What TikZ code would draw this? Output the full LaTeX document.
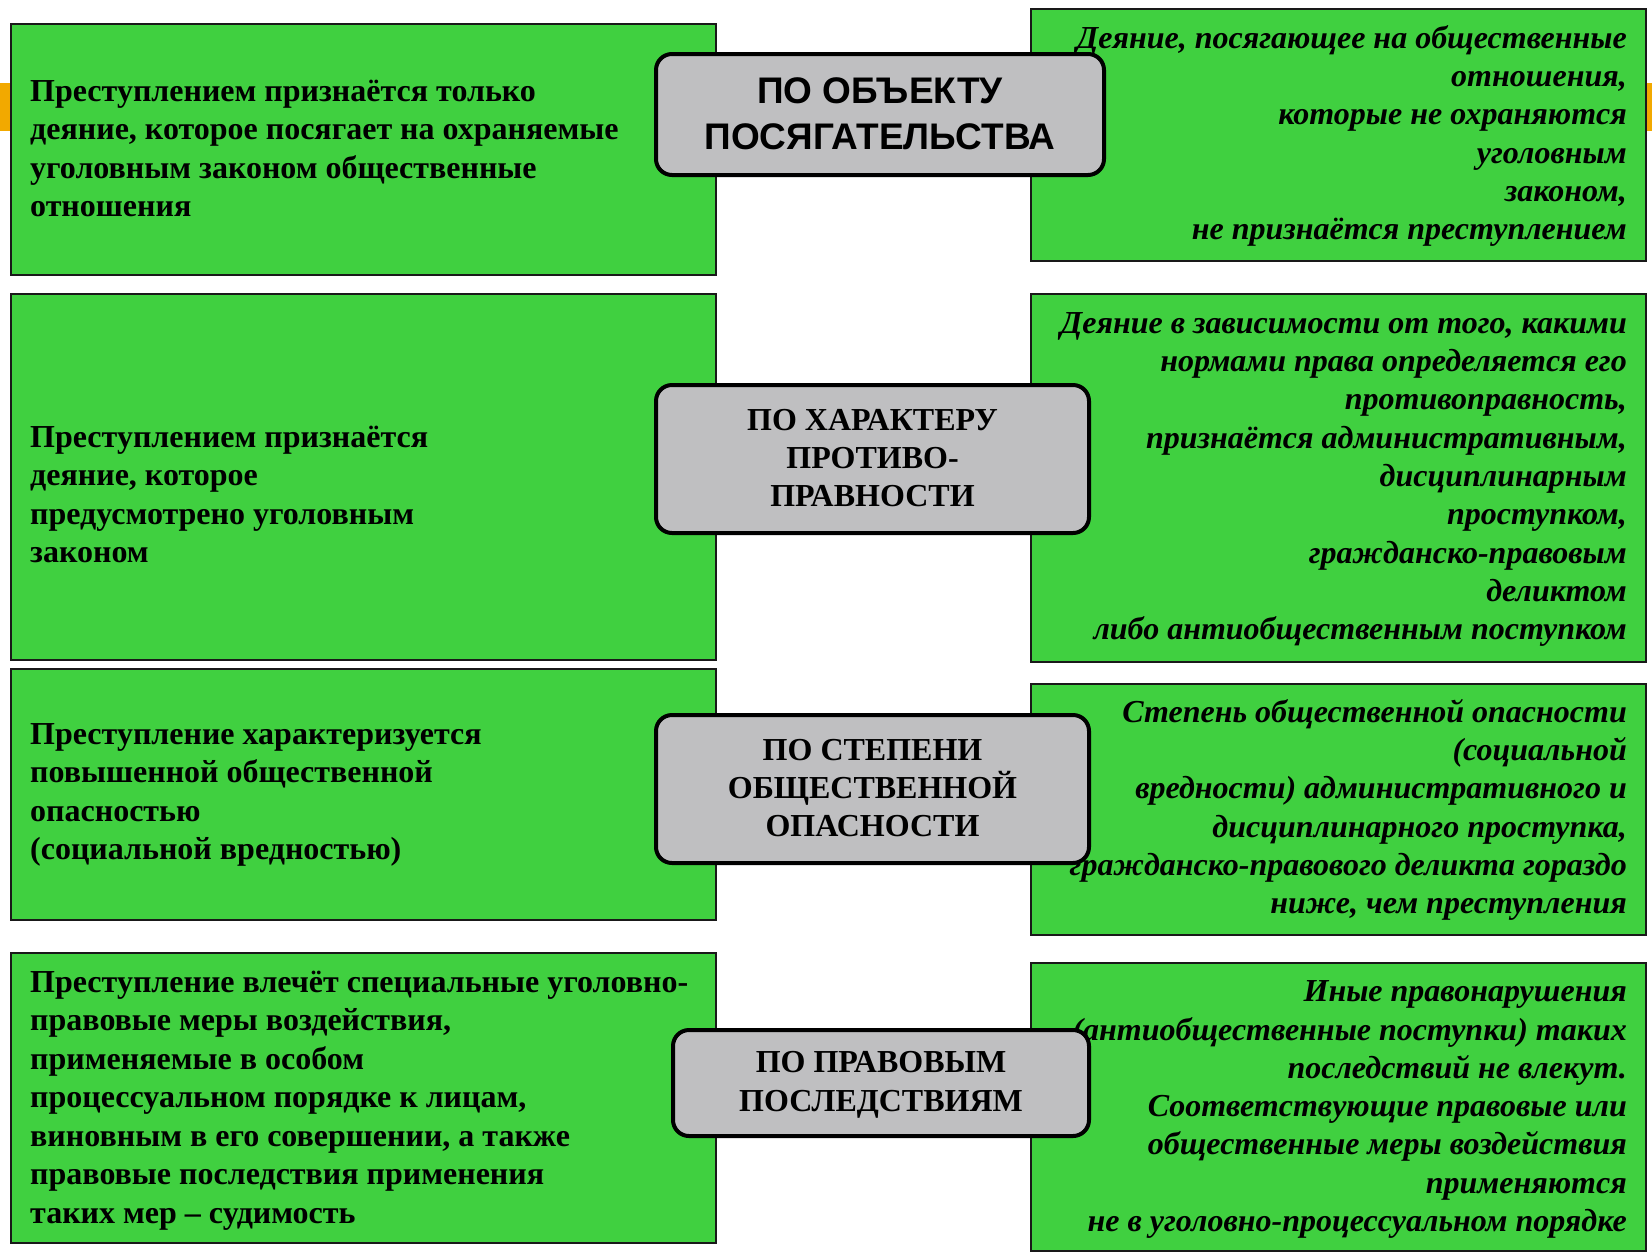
\documentclass[tikz,border=0pt]{standalone}
\usepackage{fontspec}
\setmainfont{Liberation Serif}
\newfontfamily\titlesans{Liberation Sans}
\definecolor{boxgreen}{RGB}{64,208,64}
\definecolor{bargold}{RGB}{242,169,0}
\definecolor{tagfill}{RGB}{191,191,193}
\newcommand{\lstack}[1]{\vtop{\lineskiplimit=-1000pt\halign{##\hfil\cr#1\crcr}}}
\newcommand{\rstack}[1]{\vtop{\lineskiplimit=-1000pt\halign{\hfil##\cr#1\crcr}}}
\newcommand{\cstack}[1]{\vtop{\lineskiplimit=-1000pt\halign{\hfil##\hfil\cr#1\crcr}}}
\tikzset{
  greenbox/.style={draw=black!90, line width=2pt, fill=boxgreen, anchor=north west, inner sep=0pt, outer sep=0pt},
  tagbox/.style={draw=black, line width=4pt, fill=tagfill, rounded corners=16pt, inner sep=0pt, outer sep=0pt, anchor=north west},
  lefttext/.style={anchor=base west, inner sep=0pt, font=\fontsize{32}{38.5}\selectfont\bfseries},
  righttext/.style={anchor=base east, inner sep=0pt, font=\fontsize{32}{38.3}\selectfont\bfseries\itshape},
  tagtext/.style={anchor=base, inner sep=0pt, font=\fontsize{32}{38.4}\selectfont\bfseries},
  tagsans/.style={anchor=base, inner sep=0pt, font=\titlesans\fontsize{37}{45.7}\selectfont\bfseries},
}
\begin{document}
\begin{tikzpicture}[x=1pt,y=-1pt]
\useasboundingbox (0,0) rectangle (1652,1254);
% orange band behind
\fill[bargold] (0,83) rectangle (1652,131);
% green boxes
\node[greenbox, minimum width=705pt, minimum height=251pt] (l1) at (11,24) {};
\node[greenbox, minimum width=705pt, minimum height=366pt] (l2) at (11,294) {};
\node[greenbox, minimum width=705pt, minimum height=251pt] (l3) at (11,669) {};
\node[greenbox, minimum width=705pt, minimum height=290pt] (l4) at (11,953) {};
\node[greenbox, minimum width=615pt, minimum height=252pt] (r1) at (1031,9) {};
\node[greenbox, minimum width=615pt, minimum height=368pt] (r2) at (1031,294) {};
\node[greenbox, minimum width=615pt, minimum height=251pt] (r3) at (1031,684) {};
\node[greenbox, minimum width=615pt, minimum height=288pt] (r4) at (1031,963) {};
% left texts
\node[lefttext] (l1t) at (30,101) {\lstack{Преступлением признаётся только\cr
деяние, которое посягает на охраняемые\cr
уголовным законом общественные\cr
отношения}};
\node[lefttext] (l2t) at (30,447) {\lstack{Преступлением признаётся\cr
деяние, которое\cr
предусмотрено уголовным\cr
законом}};
\node[lefttext] (l3t) at (30,744) {\lstack{Преступление характеризуется\cr
повышенной общественной\cr
опасностью\cr
(социальной вредностью)}};
\node[lefttext] (l4t) at (30,992) {\lstack{Преступление влечёт специальные уголовно-\cr
правовые меры воздействия,\cr
применяемые в особом\cr
процессуальном порядке к лицам,\cr
виновным в его совершении, а также\cr
правовые последствия применения\cr
таких мер – судимость}};
% right texts
\node[righttext] (r1t) at (1627,48.3) {\rstack{Деяние, посягающее на общественные\cr
отношения,\cr
которые не охраняются\cr
уголовным\cr
законом,\cr
не признаётся преступлением}};
\node[righttext] (r2t) at (1627,333.3) {\rstack{Деяние в зависимости от того, какими\cr
нормами права определяется его\cr
противоправность,\cr
признаётся административным,\cr
дисциплинарным\cr
проступком,\cr
гражданско-правовым\cr
деликтом\cr
либо антиобщественным поступком}};
\node[righttext] (r3t) at (1627,722.3) {\rstack{Степень общественной опасности\cr
(социальной\cr
вредности) административного и\cr
дисциплинарного проступка,\cr
гражданско-правового деликта гораздо\cr
ниже, чем преступления}};
\node[righttext] (r4t) at (1627,1001.7) {\rstack{Иные правонарушения\cr
(антиобщественные поступки) таких\cr
последствий не влекут.\cr
Соответствующие правовые или\cr
общественные меры воздействия\cr
применяются\cr
не в уголовно-процессуальном порядке}};
% grey tags
\node[tagbox, minimum width=448pt, minimum height=121pt] (g1) at (656,54) {};
\node[tagbox, minimum width=433pt, minimum height=148pt] (g2) at (656,385) {};
\node[tagbox, minimum width=433pt, minimum height=148pt] (g3) at (656,715) {};
\node[tagbox, minimum width=416pt, minimum height=106pt] (g4) at (673,1030) {};
\node[tagsans] (g1t) at (880,103.3) {\cstack{ПО ОБЪЕКТУ\cr ПОСЯГАТЕЛЬСТВА}};
\node[tagtext] (g2t) at (872.5,430) {\cstack{ПО ХАРАКТЕРУ\cr ПРОТИВО-\cr ПРАВНОСТИ}};
\node[tagtext] (g3t) at (872.5,760) {\cstack{ПО СТЕПЕНИ\cr ОБЩЕСТВЕННОЙ\cr ОПАСНОСТИ}};
\node[tagtext] (g4t) at (881,1072.7) {\cstack{ПО ПРАВОВЫМ\cr ПОСЛЕДСТВИЯМ}};
\end{tikzpicture}
\end{document}
